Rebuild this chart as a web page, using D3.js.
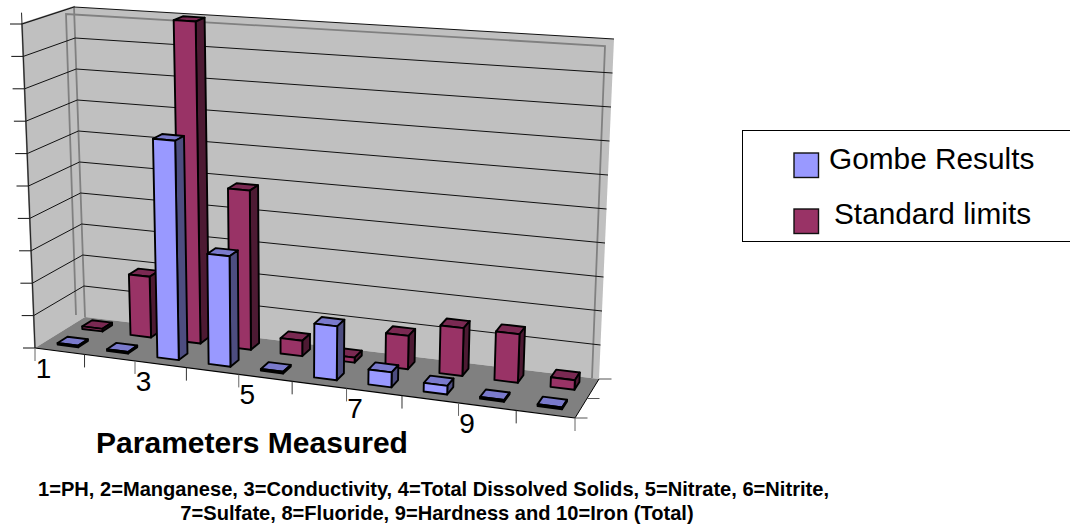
<!DOCTYPE html>
<html><head><meta charset="utf-8">
<script src="https://cdnjs.cloudflare.com/ajax/libs/d3/7.8.5/d3.min.js"></script>
<style>html,body{margin:0;padding:0;background:#fff}svg{display:block}text{font-family:"Liberation Sans",Arial,sans-serif;fill:#000}</style>
</head><body><div id="chart"></div>
<script>
const categories = [1,2,3,4,5,6,7,8,9,10];
const categoryLabels = ["1","","3","","5","","7","","9",""];
const gombeResults = [0.05,0.05,6.67,3.33,0.05,1.6,0.44,0.25,0.05,0.05];
const standardLimits = [0.08,1.9,10,4.9,0.47,0.15,1.0,1.42,1.43,0.28];
const valueTicks = [0,1,2,3,4,5,6,7,8,9,10];
const seriesNames = ["Gombe Results","Standard limits"];
const captionLines = ["1=PH, 2=Manganese, 3=Conductivity, 4=Total Dissolved Solids, 5=Nitrate, 6=Nitrite,","7=Sulfate, 8=Fluoride, 9=Hardness and 10=Iron (Total)"];

const W=1070,H=526;
const svg=d3.select("#chart").append("svg").attr("width",W).attr("height",H);

// scales into a unit cube
const xScale=d3.scaleLinear().domain([0,10]).range([0,1]);
const yScale=d3.scaleLinear().domain([0,10]).range([0,1]);
const zRow=d3.scaleBand().domain(["front","back"]).range([0,1]).paddingInner(0).paddingOuter(0);
// perspective along the category direction
const K=1.1;
const warp=u=>u/(u+(1-u)*K);
// screen corners of the floor and height vectors at these corners
const FL=[35,348],FR=[575,418],BL=[85,317],BR=[599,379];
const hFL=[-13,-324],hFR=[16,-352],hBL=[-11,-310],hBR=[15,-340];
const bil=(a,b,c,d,s,v,k)=>(1-v)*((1-s)*a[k]+s*b[k])+v*((1-s)*c[k]+s*d[k]);
function P(cat,val,z){
  const s=warp(xScale(cat)),t=yScale(val);
  return [bil(FL,FR,BL,BR,s,z,0)+t*bil(hFL,hFR,hBL,hBR,s,z,0),
          bil(FL,FR,BL,BR,s,z,1)+t*bil(hFL,hFR,hBL,hBR,s,z,1)];
}
const poly=pts=>"M"+pts.map(p=>p[0].toFixed(2)+","+p[1].toFixed(2)).join("L")+"Z";
const wallFill="#C0C0C0",floorFill="#808080",frame="#808080";

// walls and floor
const g=svg.append("g");
g.append("path").attr("d",poly([P(0,0,0),P(0,10,0),P(0,10,1),P(0,0,1)])).attr("fill",wallFill);
g.append("path").attr("d",poly([P(0,0,1),P(0,10,1),P(10,10,1),P(10,0,1)])).attr("fill",wallFill);
g.append("path").attr("d",poly([P(0,0,0),P(10,0,0),P(10,0,1),P(0,0,1)])).attr("fill",floorFill);

// inner grey frame on the back wall
const fr=[[76,315],[66,14],[605,46],[592,378]];
g.append("path").attr("d",d3.line()(fr)).attr("fill","none").attr("stroke",frame).attr("stroke-width",1.8);
g.append("path").attr("d",d3.line()([P(0,0,1),P(0,10,1),P(0,10,0),P(0,0,0)])).attr("fill","none").attr("stroke",frame).attr("stroke-width",1.8);

// gridlines
valueTicks.forEach(v=>{
  if(v===0) return;
  g.append("path").attr("d",d3.line()([P(0,v,0),P(0,v,1),P(10,v,1)])).attr("fill","none").attr("stroke","#111").attr("stroke-width",1);
});
// value-axis ticks
g.selectAll("line.vt").data(valueTicks).join("line").attr("class","vt")
  .attr("x1",v=>P(0,v,0)[0]-12).attr("x2",v=>P(0,v,0)[0]).attr("y1",v=>P(0,v,0)[1]).attr("y2",v=>P(0,v,0)[1])
  .attr("stroke","#111").attr("stroke-width",1);
g.append("line").attr("x1",P(0,0,0)[0]).attr("y1",P(0,0,0)[1]).attr("x2",P(0,10.35,0)[0]).attr("y2",P(0,10.35,0)[1]).attr("stroke","#222").attr("stroke-width",1);
// floor front edge + category ticks
g.append("line").attr("x1",FL[0]).attr("y1",FL[1]).attr("x2",FR[0]).attr("y2",FR[1]).attr("stroke","#000").attr("stroke-width",1.2);
g.append("line").attr("x1",FR[0]).attr("y1",FR[1]).attr("x2",BR[0]).attr("y2",BR[1]).attr("stroke","#000").attr("stroke-width",1);
d3.range(0,11).forEach(i=>{
  const p=P(i,0,0);
  g.append("line").attr("x1",p[0]).attr("x2",p[0]).attr("y1",p[1]).attr("y2",p[1]+13).attr("stroke",i%2?"#333":"#666").attr("stroke-width",1);
});
// depth ticks
[0,0.5,1].forEach(z=>{
  const p=P(10,0,z);
  g.append("line").attr("x1",p[0]).attr("x2",p[0]+12.5).attr("y1",p[1]).attr("y2",p[1]).attr("stroke","#555").attr("stroke-width",1);
});

// bars
const barLo=0.29,barHi=0.71,depthLo=0.34,depthHi=0.74;
const pal={front:{f:"#9999FF",t:"#7A7ACC",s:"#4D4D80"},back:{f:"#993366",t:"#7A2952",s:"#4D1A33"}};
function drawBars(row,values){
  const z0=zRow(row)+depthLo*zRow.bandwidth(), z1=zRow(row)+depthHi*zRow.bandwidth();
  const c=pal[row];
  values.forEach((v,i)=>{
    const a=i+barLo,b=i+barHi;
    const bar=svg.append("g").attr("stroke","#000").attr("stroke-width",1.9).attr("stroke-linejoin","round");
    bar.append("path").attr("d",poly([P(a,v,z0),P(b,v,z0),P(b,v,z1),P(a,v,z1)])).attr("fill",c.t);
    bar.append("path").attr("d",poly([P(b,0,z0),P(b,v,z0),P(b,v,z1),P(b,0,z1)])).attr("fill",c.s);
    bar.append("path").attr("d",poly([P(a,0,z0),P(b,0,z0),P(b,v,z0),P(a,v,z0)])).attr("fill",c.f);
  });
}
drawBars("back",standardLimits);
drawBars("front",gombeResults);

// category labels
categoryLabels.forEach((t,i)=>{
  if(!t) return;
  const p=P(i,0,0);
  svg.append("text").attr("x",p[0]+8.5).attr("y",p[1]+30).attr("text-anchor","middle").attr("font-size",28).text(t);
});
// axis title
svg.append("text").attr("x",252).attr("y",453).attr("text-anchor","middle").attr("font-size",30).attr("font-weight","bold").text("Parameters Measured");
// caption
const captionX=[433.5,437],captionY=[496,520];
captionLines.forEach((t,i)=>{
  svg.append("text").attr("x",captionX[i]).attr("y",captionY[i]).attr("text-anchor","middle").attr("font-size",20.1).attr("font-weight","bold").text(t);
});
// legend
const legendX=[829,834],legendBase=[169,224],swY=[153,209];
svg.append("rect").attr("x",742.5).attr("y",130.5).attr("width",340).attr("height",111).attr("fill","#fff").attr("stroke","#000").attr("stroke-width",1);
seriesNames.forEach((n,i)=>{
  svg.append("rect").attr("x",794).attr("y",swY[i]).attr("width",24.5).attr("height",24.5)
    .attr("fill",[pal.front.f,pal.back.f][i]).attr("stroke","#111").attr("stroke-width",1.4);
  svg.append("text").attr("x",legendX[i]).attr("y",legendBase[i]).attr("font-size",29.8).text(n);
});
</script></body></html>
